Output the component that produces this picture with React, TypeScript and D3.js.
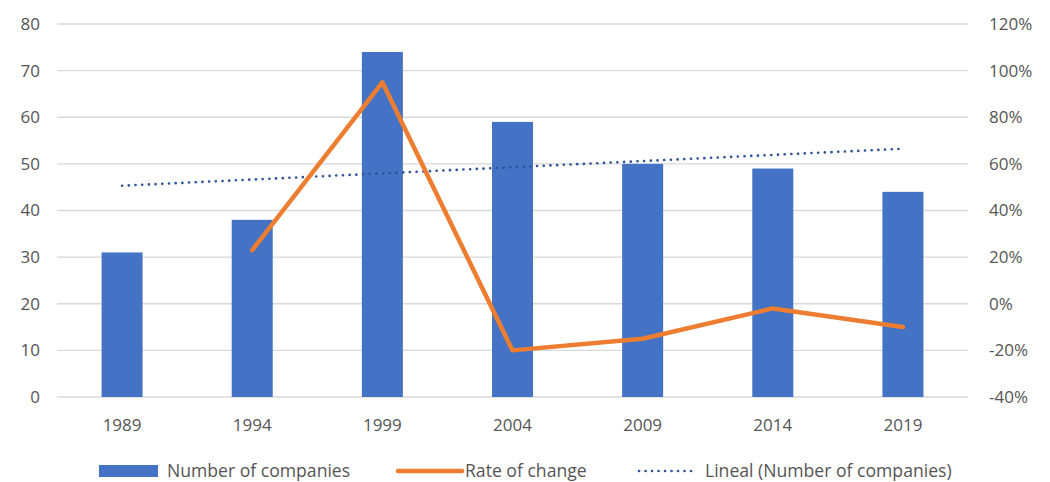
import React from "react";
import * as d3 from "d3";

// Companies per survey year, with the period-over-period rate of change
const years = ["1989", "1994", "1999", "2004", "2009", "2014", "2019"];
const companies = [31, 38, 74, 59, 50, 49, 44];
// Rate of change (fraction); the first year has no previous value
const rateYears = ["1994", "1999", "2004", "2009", "2014", "2019"];
const rateOfChange = [0.23, 0.95, -0.2, -0.15, -0.02, -0.1];
const leftTicks = [0, 10, 20, 30, 40, 50, 60, 70, 80];
const rightTicks = [-0.4, -0.2, 0, 0.2, 0.4, 0.6, 0.8, 1.0, 1.2];

const W = 1050;
const H = 482;
const margin = { left: 57, right: 82, top: 24, bottom: 85 };

const BLUE = "#4472C4";
const ORANGE = "#ED7D31";
const TREND = "#2E5597";
const TEXT = "#555555";
const GRID = "#D9D9D9";
const FONT = "'Open Sans', 'Liberation Sans', sans-serif";
const FS = 17;
const LEGEND_FS = 17.6;

export default function App() {
  const x = d3
    .scaleBand<string>()
    .domain(years)
    .range([margin.left, W - margin.right])
    .paddingInner(0.685)
    .paddingOuter(0.3425);
  const yL = d3.scaleLinear().domain([0, 80]).range([H - margin.bottom, margin.top]);
  const yR = d3.scaleLinear().domain([-0.4, 1.2]).range([H - margin.bottom, margin.top]);
  const cx = (yr: string) => (x(yr) ?? 0) + x.bandwidth() / 2;

  // Least-squares linear trend over the company counts (x = 1..n)
  const n = companies.length;
  const xs = companies.map((_, i) => i + 1);
  const mx = d3.mean(xs) as number;
  const my = d3.mean(companies) as number;
  const slope =
    d3.sum(xs.map((xi, i) => (xi - mx) * (companies[i] - my))) /
    d3.sum(xs.map((xi) => (xi - mx) ** 2));
  const intercept = my - slope * mx;
  const trendPts: [number, number][] = [
    [cx(years[0]), yL(intercept + slope * 1)],
    [cx(years[n - 1]), yL(intercept + slope * n)],
  ];

  const rateLine = d3
    .line<number>()
    .x((_, i) => cx(rateYears[i]))
    .y((d) => yR(d));

  // percent labels with a plain hyphen for negatives
  const pct = (v: number) => `${Math.round(v * 100)}%`;
  const legendY = 471;

  return (
    <svg width={W} height={H} style={{ position: "absolute", left: 0, top: 0, background: "#fff" }} fontFamily={FONT}>
      {/* gridlines */}
      {leftTicks.map((t) => (
        <line key={t} x1={margin.left} x2={W - margin.right} y1={yL(t)} y2={yL(t)} stroke={GRID} strokeWidth={1.3} />
      ))}
      {/* left axis labels */}
      {leftTicks.map((t) => (
        <text key={t} x={40} y={yL(t)} dy="0.35em" textAnchor="end" fontSize={FS} fill={TEXT}>
          {t}
        </text>
      ))}
      {/* right axis labels */}
      {rightTicks.map((t) => (
        <text key={t} x={989} y={yR(t)} dy="0.35em" textAnchor="start" fontSize={FS} fill={TEXT}>
          {pct(t)}
        </text>
      ))}
      {/* category labels */}
      {years.map((yr) => (
        <text key={yr} x={cx(yr)} y={425} dy="0.35em" textAnchor="middle" fontSize={FS} fill={TEXT}>
          {yr}
        </text>
      ))}
      {/* bars */}
      {companies.map((v, i) => (
        <rect key={years[i]} x={x(years[i])} y={yL(v)} width={x.bandwidth()} height={yL(0) - yL(v)} fill={BLUE} />
      ))}
      {/* linear trend */}
      <path
        d={d3.line()(trendPts) ?? ""}
        fill="none"
        stroke={TREND}
        strokeWidth={2.6}
        strokeDasharray="0.1 6.6"
        strokeLinecap="round"
      />
      {/* rate of change */}
      <path d={rateLine(rateOfChange) ?? ""} fill="none" stroke={ORANGE} strokeWidth={4.5} strokeLinejoin="round" strokeLinecap="round" />

      {/* legend */}
      <rect x={99} y={legendY - 6} width={59} height={12} fill={BLUE} />
      <text x={167} y={legendY} dy="0.35em" fontSize={LEGEND_FS} fill={TEXT}>
        Number of companies
      </text>
      <line x1={398} x2={462} y1={legendY} y2={legendY} stroke={ORANGE} strokeWidth={4.5} strokeLinecap="round" />
      <text x={465} y={legendY} dy="0.35em" fontSize={LEGEND_FS} fill={TEXT}>
        Rate of change
      </text>
      <line
        x1={639}
        x2={697}
        y1={legendY}
        y2={legendY}
        stroke={TREND}
        strokeWidth={2.6}
        strokeDasharray="0.1 6.4"
        strokeLinecap="round"
      />
      <text x={705} y={legendY} dy="0.35em" fontSize={LEGEND_FS} fill={TEXT}>
        Lineal (Number of companies)
      </text>
    </svg>
  );
}
